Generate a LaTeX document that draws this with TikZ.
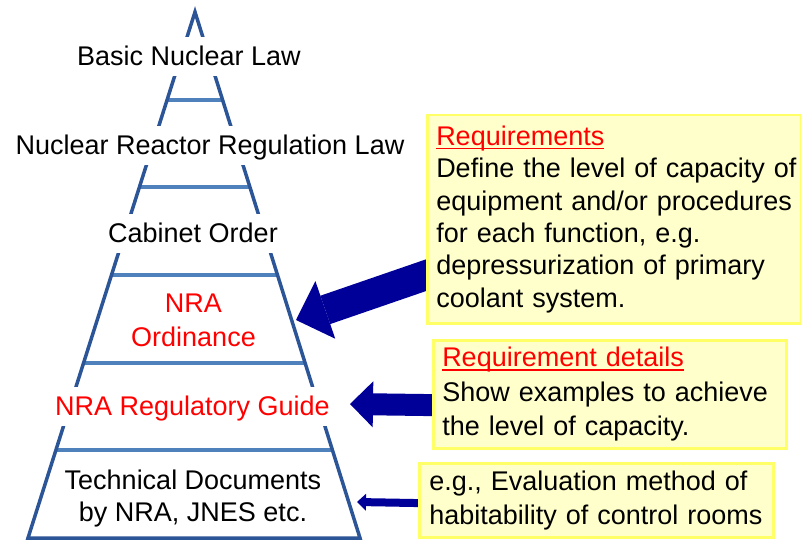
\documentclass[tikz,border=0pt]{standalone}
\usepackage{fontspec}
\setmainfont{Liberation Sans}
\usetikzlibrary{arrows.meta,backgrounds,calc}
\definecolor{sidecol}{HTML}{2C5597}
\definecolor{rungcol}{HTML}{4F81BD}
\definecolor{notefill}{HTML}{FFFFCC}
\definecolor{noteedge}{HTML}{FFFF66}
\definecolor{arrowcol}{HTML}{000099}
\newcommand{\notehead}[1]{\setbox0\hbox{#1}\rlap{\rule[-4pt]{\wd0}{1.5pt}}\box0}
\tikzset{
	side/.style={draw=sidecol, line width=3.5pt},
	rung/.style={draw=rungcol, line width=4pt},
	lvl/.style={font=\fontsize{27}{32.4}\selectfont, fill=white, inner xsep=4pt, inner ysep=6.5pt, text height=22pt, text depth=4pt},
	lvltwo/.style={align=center, inner sep=0pt},
	notebox/.style={draw=noteedge, fill=notefill, line width=2.5pt, anchor=north west, align=left, inner ysep=0pt},
	fatarrow/.style={draw=arrowcol, line cap=butt}
}
\begin{document}
\begin{tikzpicture}[x=1pt,y=-1pt]
\useasboundingbox (0,0) rectangle (801,540);
\coordinate (apex) at (195,12);
\coordinate (bl) at (28,538);
\coordinate (br) at (360,538);
\foreach \k in {1,...,5} {
	\pgfmathsetmacro{\f}{\k/6}
	\draw[rung] ($(apex)!\f!(bl)$) -- ($(apex)!\f!(br)$);
}
\draw[side] (bl) -- (apex) -- (br) -- cycle;
\node[lvl] (basic) at (189,57) {Basic Nuclear Law};
\node[lvl] (reactor) at (210,146) {Nuclear Reactor Regulation Law};
\node[lvl] (cabinet) at (193,233.7) {Cabinet Order};
\node[lvltwo, text=red, font=\fontsize{27}{34}\selectfont] (ordinance) at (193.5,320.4) {NRA\\Ordinance};
\node[lvl, text=red] (guide) at (192.5,406) {NRA Regulatory Guide};
\node[lvltwo, font=\fontsize{27}{32}\selectfont] (techdoc) at (193,499) {Technical Documents\\by NRA, JNES etc.};
\node[notebox, text width=356pt, inner xsep=9pt, minimum height=208pt, font=\fontsize{27}{32.4}\selectfont] (req) at (426,114)
	{\textcolor{red}{\notehead{Requirements}}\\\mbox{Define the level of capacity of}\\\mbox{equipment and/or procedures}\\for each function, e.g.\\depressurization of primary\\coolant system.};
\node[notebox, text width=335pt, inner xsep=9pt, minimum height=108pt, font=\fontsize{27}{34.5}\selectfont] (reqdet) at (432,339)
	{\textcolor{red}{\notehead{Requirement details}}\\Show examples to achieve\\the level of capacity.};
\node[notebox, text width=334pt, inner xsep=10pt, minimum height=74pt, font=\fontsize{27}{34}\selectfont] (example) at (418,462)
	{e.g., Evaluation method of\\habitability of control rooms};
\coordinate (ordtip) at (296,320);
\coordinate (guidetip) at (350,404);
\coordinate (techtip) at (357,502);
\begin{scope}[on background layer]
	\draw[fatarrow, line width=30pt, -{Triangle[length=31pt, width=61pt, line width=0pt]}] ([shift={(10,52.5)}]req.west) -- (ordtip);
	\draw[fatarrow, line width=22pt, -{Triangle[length=23pt, width=46pt, line width=0pt]}] ([shift={(10,11)}]reqdet.west) -- (guidetip);
	\draw[fatarrow, line width=8pt, -{Triangle[length=9pt, width=17pt, line width=0pt]}] ([shift={(10,3)}]example.west) -- (techtip);
\end{scope}
\end{tikzpicture}
\end{document}
